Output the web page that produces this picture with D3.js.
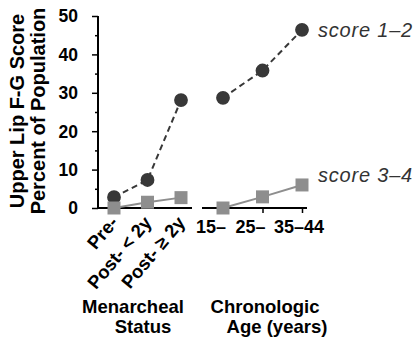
<!DOCTYPE html>
<html>
<head>
<meta charset="utf-8">
<script src="https://cdn.jsdelivr.net/npm/d3@7"></script>
<style>
	html, body { margin: 0; padding: 0; background: #fff; }
	svg { display: block; font-family: "Liberation Sans", Arial, sans-serif; }
</style>
</head>
<body>
<div id="chart"></div>
<script>
	// DATA //

	var menarcheCategories = [ 'Pre-', 'Post- < 2y', 'Post- \u2265 2y' ],
		ageCategories = [ '15\u2013', '25\u2013', '35\u201344' ],
		score12Menarche = [ 2.8, 7.3, 28.1 ],
		score34Menarche = [ 0, 1.5, 2.7 ],
		score12Age = [ 28.7, 35.8, 46.4 ],
		score34Age = [ 0, 2.9, 6.0 ],
		yTicks = [ 0, 10, 20, 30, 40, 50 ],
		seriesLabels = [ 'score 1\u20132', 'score 3\u20134' ];


	// VARIABLES //

	var WIDTH = 413,
		HEIGHT = 337,
		AXIS_X = 98,
		DARK = '#383838',
		GREY = '#8e8e8e';

	var svg = d3.select( '#chart' ).append( 'svg' )
		.attr( 'width', WIDTH )
		.attr( 'height', HEIGHT );

	var y = d3.scaleLinear()
		.domain( [ 0, 50 ] )
		.range( [ 208, 16 ] );

	var xMen = d3.scalePoint()
		.domain( menarcheCategories )
		.range( [ 114, 181 ] );

	var xAge = d3.scalePoint()
		.domain( ageCategories )
		.range( [ 223, 302 ] );

	// Y axis: minor ticks every 5, major every 10
	var yMinor = svg.append( 'g' )
		.attr( 'transform', 'translate(' + AXIS_X + ',0)' )
		.call( d3.axisLeft( y ).tickValues( d3.range( 5, 50, 10 ) ).tickSize( 3 ).tickFormat( '' ) );
	yMinor.select( '.domain' ).remove();
	yMinor.selectAll( '.tick line' ).attr( 'stroke-width', 1.5 );

	var yAxis = svg.append( 'g' )
		.attr( 'transform', 'translate(' + AXIS_X + ',0)' )
		.call( d3.axisLeft( y ).tickValues( yTicks ).tickSize( 6 ).tickFormat( '' ) );
	yAxis.select( '.domain' ).attr( 'stroke-width', 2 ).attr( 'd', 'M0,' + y( 50 ) + 'V' + y( 0 ) );
	yAxis.selectAll( '.tick line' ).attr( 'stroke-width', 1.5 );

	svg.append( 'g' ).selectAll( 'text' )
		.data( yTicks )
		.enter().append( 'text' )
		.attr( 'x', 78 )
		.attr( 'y', function ( d ) { return y( d ); } )
		.attr( 'dy', '0.36em' )
		.attr( 'text-anchor', 'end' )
		.attr( 'font-size', 17.5 )
		.attr( 'font-weight', 'bold' )
		.text( function ( d ) { return d; } );

	// X axis segments:
	svg.append( 'line' )
		.attr( 'x1', AXIS_X ).attr( 'x2', xMen.range()[ 1 ] + 11 )
		.attr( 'y1', y( 0 ) ).attr( 'y2', y( 0 ) )
		.attr( 'stroke', '#000' ).attr( 'stroke-width', 2 );

	var ageAxis = svg.append( 'g' )
		.attr( 'transform', 'translate(0,' + y( 0 ) + ')' )
		.call( d3.axisBottom( xAge ).tickSize( 5 ).tickFormat( '' ) );
	ageAxis.select( '.domain' )
		.attr( 'stroke-width', 2 )
		.attr( 'd', 'M' + ( xAge.range()[ 0 ] - 21 ) + ',0H' + ( xAge.range()[ 1 ] + 5 ) );
	ageAxis.selectAll( '.tick line' ).attr( 'stroke-width', 1.5 );

	// Tick labels:
	svg.append( 'g' ).selectAll( 'text' )
		.data( menarcheCategories )
		.enter().append( 'text' )
		.attr( 'transform', function ( d ) {
			return 'translate(' + ( xMen( d ) + 5 ) + ',223) rotate(-50)';
		})
		.attr( 'text-anchor', 'end' )
		.attr( 'font-size', 18.5 )
		.attr( 'font-weight', 'bold' )
		.text( function ( d ) { return d; } );

	svg.append( 'g' ).selectAll( 'text' )
		.data( ageCategories )
		.enter().append( 'text' )
		.attr( 'x', function ( d ) {
			return /\u2013$/.test( d ) ? xAge( d ) + 3 : xAge( d ) - 3;
		})
		.attr( 'y', 233 )
		.attr( 'text-anchor', function ( d ) {
			return /\u2013$/.test( d ) ? 'end' : 'middle';
		})
		.attr( 'font-size', 18 )
		.attr( 'font-weight', 'bold' )
		.text( function ( d ) { return d; } );

	// Group titles:
	function groupTitle( lines, xs ) {
		var g = svg.append( 'g' )
			.attr( 'font-size', 18.5 )
			.attr( 'font-weight', 'bold' )
			.attr( 'text-anchor', 'middle' );
		lines.forEach( function ( t, i ) {
			g.append( 'text' )
				.attr( 'x', xs[ i ] )
				.attr( 'y', 313 + i * 20 )
				.text( t );
		});
	}
	groupTitle( [ 'Menarcheal', 'Status' ], [ 133, 143 ] );
	groupTitle( [ 'Chronologic', 'Age (years)' ], [ 265, 277 ] );

	// Y axis title:
	var yTitle = svg.append( 'g' )
		.attr( 'transform', 'translate(0,111) rotate(-90)' )
		.attr( 'font-size', 20 )
		.attr( 'font-weight', 'bold' )
		.attr( 'text-anchor', 'middle' );
	yTitle.append( 'text' ).attr( 'x', 0 ).attr( 'y', 24 ).text( 'Upper Lip F-G Score' );
	yTitle.append( 'text' ).attr( 'x', 0 ).attr( 'y', 45 ).text( 'Percent of Population' );

	// Series:
	function drawSeries( xScale, cats, values, opts ) {
		var pts = cats.map( function ( c, i ) { return [ xScale( c ), y( values[ i ] ) ]; } );
		svg.append( 'path' )
			.datum( pts )
			.attr( 'fill', 'none' )
			.attr( 'stroke', opts.color )
			.attr( 'stroke-width', 2 )
			.attr( 'stroke-dasharray', opts.dash || null )
			.attr( 'd', d3.line() );
		var sym = d3.symbol().type( opts.square ? d3.symbolSquare : d3.symbolCircle ).size( opts.square ? 169 : 150 );
		svg.append( 'g' ).selectAll( 'path' )
			.data( pts )
			.enter().append( 'path' )
			.attr( 'transform', function ( d ) { return 'translate(' + d[ 0 ] + ',' + d[ 1 ] + ')'; } )
			.attr( 'fill', opts.color )
			.attr( 'd', sym );
	}

	drawSeries( xMen, menarcheCategories, score12Menarche, { color: DARK, dash: '6,4' } );
	drawSeries( xAge, ageCategories, score12Age, { color: DARK, dash: '6,4' } );
	drawSeries( xMen, menarcheCategories, score34Menarche, { color: GREY, square: true } );
	drawSeries( xAge, ageCategories, score34Age, { color: GREY, square: true } );

	// Series labels:
	svg.append( 'g' ).selectAll( 'text' )
		.data( seriesLabels )
		.enter().append( 'text' )
		.attr( 'x', 318 )
		.attr( 'y', function ( d, i ) { return i === 0 ? 37 : 182; } )
		.attr( 'font-size', 20 )
		.attr( 'letter-spacing', 0.8 )
		.attr( 'font-style', 'italic' )
		.attr( 'fill', '#333' )
		.text( function ( d ) { return d; } );
</script>
</body>
</html>
